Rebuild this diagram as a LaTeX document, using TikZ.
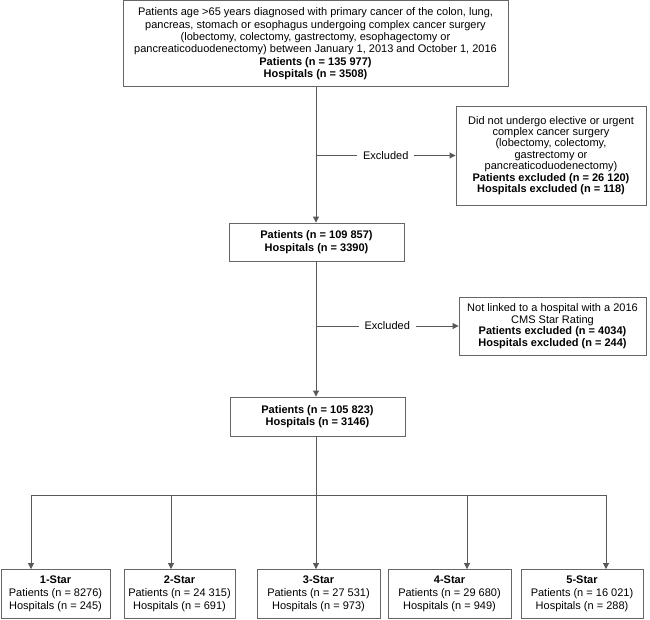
\documentclass[tikz,border=0pt]{standalone}
\usepackage{fontspec}
\setmainfont{Liberation Sans}
\usetikzlibrary{arrows.meta}
\tikzset{
  box/.style={draw=black!60, line width=0.9pt, align=center, inner sep=0pt},
  conn/.style={draw=black!65, line width=0.9pt},
  arr/.style={conn, -{Triangle[length=6pt,width=6pt]}},
  lbl/.style={fill=white, inner xsep=6pt, inner ysep=1pt, font=\fontsize{11}{12}\selectfont}
}
\begin{document}
\begin{tikzpicture}[x=1pt,y=-1pt]
\useasboundingbox (0,0) rectangle (650,619);
\node[box, minimum width=385pt, minimum height=86pt, font=\fontsize{11}{12.4}\selectfont] (top) at (315.5,43.8)
 {Patients age >65 years diagnosed with primary cancer of the colon, lung,\\
  pancreas, stomach or esophagus undergoing complex cancer surgery\\
  (lobectomy, colectomy, gastrectomy, esophagectomy or\\
  pancreaticoduodenectomy) between January 1, 2013 and October 1, 2016\\
  \textbf{Patients (n = 135 977)}\\
  \textbf{Hospitals (n = 3508)}};
\node[box, minimum width=190pt, minimum height=99pt, font=\fontsize{11}{11.4}\selectfont] (ex1) at (551,155.5)
 {Did not undergo elective or urgent\\
  complex cancer surgery\\
  (lobectomy, colectomy,\\
  gastrectomy or\\
  pancreaticoduodenectomy)\\
  \textbf{Patients excluded (n = 26 120)}\\
  \textbf{Hospitals excluded (n = 118)}};
\node[box, minimum width=175pt, minimum height=38pt, font=\fontsize{11}{12.7}\selectfont] (b2) at (316.5,242)
 {\textbf{Patients (n = 109 857)}\\ \textbf{Hospitals (n = 3390)}};
\node[box, minimum width=187pt, minimum height=58pt, font=\fontsize{11}{11.7}\selectfont] (ex2) at (552.5,326)
 {Not linked to a hospital with a 2016\\
  CMS Star Rating\\
  \textbf{Patients excluded (n = 4034)}\\
  \textbf{Hospitals excluded (n = 244)}};
\node[box, minimum width=175pt, minimum height=39pt, font=\fontsize{11}{12.7}\selectfont] (b3) at (317.5,416.5)
 {\textbf{Patients (n = 105 823)}\\ \textbf{Hospitals (n = 3146)}};
\tikzset{star/.style={box, minimum height=49pt, font=\fontsize{11}{12.8}\selectfont}}
\node[star, minimum width=109pt] (s1) at (55.5,594) {\textbf{1-Star}\\ Patients (n = 8276)\\ Hospitals (n = 245)};
\node[star, minimum width=111pt] (s2) at (179.5,594) {\textbf{2-Star}\\ Patients (n = 24 315)\\ Hospitals (n = 691)};
\node[star, minimum width=123pt] (s3) at (318.5,594) {\textbf{3-Star}\\ Patients (n = 27 531)\\ Hospitals (n = 973)};
\node[star, minimum width=123pt] (s4) at (449.5,594) {\textbf{4-Star}\\ Patients (n = 29 680)\\ Hospitals (n = 949)};
\node[star, minimum width=122pt] (s5) at (582,594) {\textbf{5-Star}\\ Patients (n = 16 021)\\ Hospitals (n = 288)};
% connectors
\coordinate (m) at (316,0);
\draw[arr] (top.south -| m) -- (b2.north -| m);
\draw[arr] (b2.south -| m) -- (b3.north -| m);
\draw[arr] (m |- ex1.west) -- node[lbl] {Excluded} (ex1.west);
\draw[arr] (m |- ex2.west) -- node[lbl] {Excluded} (ex2.west);
\coordinate (j1) at (31,495);
\coordinate (j2) at (171,495);
\coordinate (j3) at (316,495);
\coordinate (j4) at (467,495);
\coordinate (j5) at (606,495);
\draw[conn] (b3.south -| m) -- (j3);
\draw[conn] (j1) -- (j5);
\draw[arr] (j1) -- (j1 |- s1.north);
\draw[arr] (j2) -- (j2 |- s2.north);
\draw[arr] (j3) -- (j3 |- s3.north);
\draw[arr] (j4) -- (j4 |- s4.north);
\draw[arr] (j5) -- (j5 |- s5.north);
\end{tikzpicture}
\end{document}
